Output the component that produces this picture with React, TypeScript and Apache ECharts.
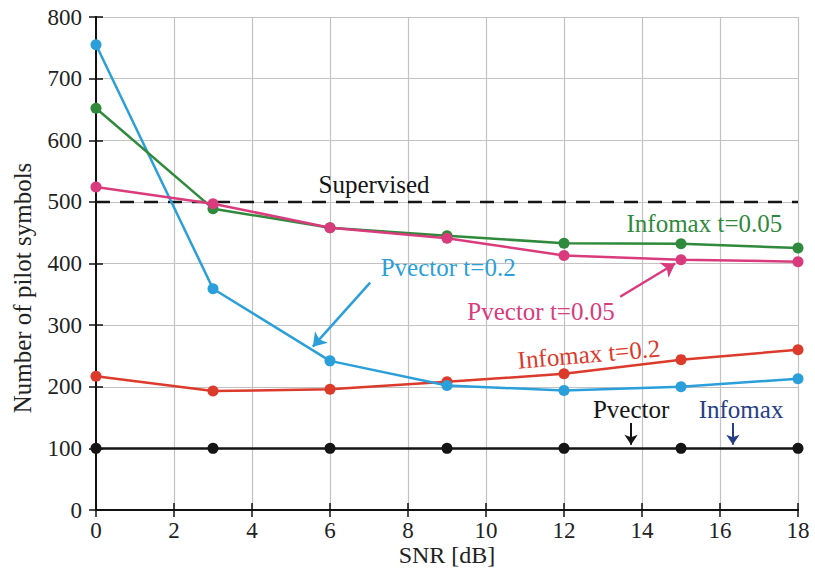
import React, { useEffect, useRef } from "react";
import * as echarts from "echarts";

const snr = [0, 3, 6, 9, 12, 15, 18];
const pvector02 = [755, 359, 242, 202, 194, 200, 213];
const infomax005 = [652, 489, 458, 445, 433, 432, 425];
const pvector005 = [524, 497, 458, 441, 413, 406, 403];
const infomax02 = [217, 193, 196, 208, 221, 244, 260];
const pvectorInfomax = [100, 100, 100, 100, 100, 100, 100];
const supervised = 500;

const xTicks = { min: 0, max: 18, interval: 2 };
const yTicks = { min: 0, max: 800, interval: 100 };

const colors = {
  blue: "#2b9fda",
  green: "#2f8a3c",
  magenta: "#d93b7d",
  red: "#dc3a2b",
  black: "#151515",
  navy: "#263e86",
};

// annotation labels in data coordinates
const labels = [
  { text: "Supervised", x: 7.13, y: 528, color: colors.black, rot: 0 },
  { text: "Infomax t=0.05", x: 15.6, y: 465, color: colors.green, rot: 0 },
  { text: "Pvector t=0.2", x: 9.03, y: 393, color: colors.blue, rot: 0 },
  { text: "Pvector t=0.05", x: 11.41, y: 322, color: colors.magenta, rot: 0 },
  { text: "Infomax t=0.2", x: 12.64, y: 253, color: colors.red, rot: 0.085 },
  { text: "Pvector", x: 13.72, y: 163, color: colors.black, rot: 0 },
  { text: "Infomax", x: 16.54, y: 163, color: colors.navy, rot: 0 },
];

// annotation arrows in data coordinates [from, to]
const arrows = [
  { from: [7.03, 369], to: [5.56, 265], color: colors.blue, size: 13, width: 2.5 },
  { from: [13.44, 346], to: [14.85, 400], color: colors.magenta, size: 13, width: 2.5 },
  { from: [13.72, 141], to: [13.72, 106], color: colors.black, size: 10, width: 2 },
  { from: [16.33, 141], to: [16.33, 106], color: colors.navy, size: 10, width: 2 },
];

const FONT = "Liberation Serif";

export default function App() {
  const ref = useRef<HTMLDivElement>(null);
  useEffect(() => {
    if (!ref.current) return;
    const chart = echarts.init(ref.current, null, { renderer: "svg" });
    const pts = (vals: number[]) => snr.map((x, i) => [x, vals[i]]);
    const lineSeries = (name: string, vals: number[], color: string) => ({
      name,
      type: "line",
      data: pts(vals),
      symbol: "circle",
      symbolSize: 11,
      lineStyle: { color, width: 2.5 },
      itemStyle: { color },
      z: 3,
    });
    const axisCommon = {
      axisLine: { show: true, lineStyle: { color: "#111", width: 2 } },
      axisTick: { show: true, inside: true, length: 7, lineStyle: { color: "#111", width: 1.5 } },
    };
    chart.setOption({
      animation: false,
      backgroundColor: "#fff",
      textStyle: { fontFamily: FONT },
      grid: { left: 96, right: 17, top: 17, bottom: 64, show: false },
      xAxis: [
        {
          type: "value",
          ...xTicks,
          position: "bottom",
          ...axisCommon,
          axisLabel: { color: "#222", fontFamily: FONT, fontSize: 23, margin: 9 },
          splitLine: { show: true, lineStyle: { color: "#c2c2c2", width: 1.2 } },
        },
        {
          type: "value",
          ...xTicks,
          position: "top",
          ...axisCommon,
          axisLabel: { show: false },
          splitLine: { show: false },
        },
      ],
      yAxis: [
        {
          type: "value",
          ...yTicks,
          position: "left",
          ...axisCommon,
          axisLabel: { color: "#222", fontFamily: FONT, fontSize: 23, margin: 14 },
          splitLine: { show: true, lineStyle: { color: "#c2c2c2", width: 1.2 } },
        },
        {
          type: "value",
          ...yTicks,
          position: "right",
          ...axisCommon,
          axisLabel: { show: false },
          splitLine: { show: false },
        },
      ],
      series: [
        {
          name: "Supervised",
          type: "line",
          data: [
            [xTicks.min, supervised],
            [xTicks.max, supervised],
          ],
          symbol: "none",
          lineStyle: { color: colors.black, width: 2.5, type: [14, 10] },
          z: 2,
        },
        lineSeries("Pvector / Infomax", pvectorInfomax, colors.black),
        lineSeries("Infomax t=0.2", infomax02, colors.red),
        lineSeries("Pvector t=0.2", pvector02, colors.blue),
        lineSeries("Infomax t=0.05", infomax005, colors.green),
        lineSeries("Pvector t=0.05", pvector005, colors.magenta),
        ...arrows.map((a) => ({
          type: "lines",
          coordinateSystem: "cartesian2d",
          symbol: ["none", "arrow"],
          symbolSize: a.size,
          lineStyle: { color: a.color, width: a.width, opacity: 1, curveness: 0 },
          data: [{ coords: [a.from, a.to] }],
          z: 4,
        })),
      ],
    });
    const graphic: any[] = labels.map((l) => {
      const [px, py] = chart.convertToPixel({ gridIndex: 0 }, [l.x, l.y]) as number[];
      return {
        type: "text",
        x: px,
        y: py,
        rotation: l.rot,
        z: 10,
        style: {
          text: l.text,
          fill: l.color,
          fontFamily: FONT,
          fontSize: 25,
          align: "center",
          verticalAlign: "middle",
        },
      };
    });
    graphic.push({
      type: "text",
      x: 22,
      y: 288,
      rotation: Math.PI / 2,
      style: {
        text: "Number of pilot symbols",
        fill: "#222",
        fontFamily: FONT,
        fontSize: 25,
        align: "center",
        verticalAlign: "middle",
      },
    });
    graphic.push({
      type: "text",
      x: 447,
      y: 555,
      style: {
        text: "SNR [dB]",
        fill: "#222",
        fontFamily: FONT,
        fontSize: 24,
        align: "center",
        verticalAlign: "middle",
      },
    });
    chart.setOption({ graphic });
    return () => chart.dispose();
  }, []);
  return (
    <div
      ref={ref}
      style={{ position: "fixed", left: 0, top: 0, width: 815, height: 574, background: "#fff" }}
    />
  );
}
